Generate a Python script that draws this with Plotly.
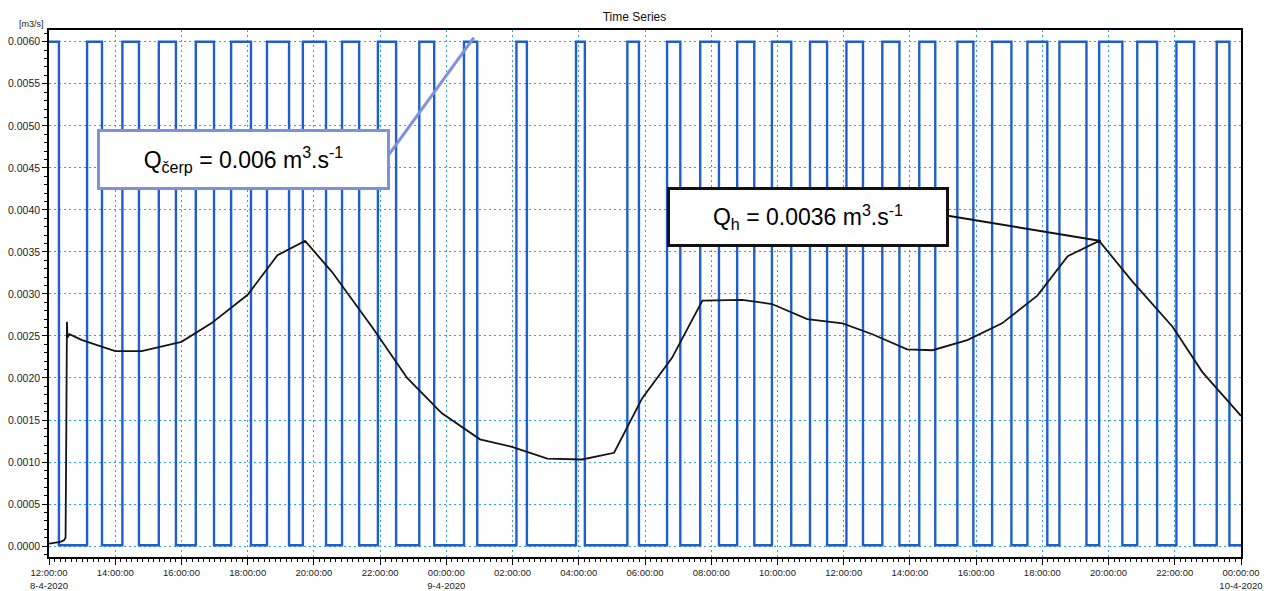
import plotly.graph_objects as go
import pandas as pd

# ---------------- data ----------------
# pump (Q cerp) switching times: pump ON intervals
pump_on = [
    "2020-04-08 12:00", "2020-04-08 13:09", "2020-04-08 14:13", "2020-04-08 15:19",
    "2020-04-08 16:26", "2020-04-08 17:30", "2020-04-08 18:35", "2020-04-08 19:40",
    "2020-04-08 20:51", "2020-04-08 21:56", "2020-04-08 23:11", "2020-04-09 00:32",
    "2020-04-09 02:07", "2020-04-09 03:55", "2020-04-09 05:28", "2020-04-09 06:40",
    "2020-04-09 07:40", "2020-04-09 08:47", "2020-04-09 09:50", "2020-04-09 10:59",
    "2020-04-09 12:05", "2020-04-09 13:10", "2020-04-09 14:17", "2020-04-09 15:26",
    "2020-04-09 16:29", "2020-04-09 17:33", "2020-04-09 18:31", "2020-04-09 19:43",
    "2020-04-09 20:52", "2020-04-09 22:03", "2020-04-09 23:16",
]
pump_off = [
    "2020-04-08 12:18", "2020-04-08 13:36", "2020-04-08 14:43", "2020-04-08 15:50",
    "2020-04-08 16:59", "2020-04-08 18:06", "2020-04-08 19:15", "2020-04-08 20:22",
    "2020-04-08 21:22", "2020-04-08 22:29", "2020-04-08 23:38", "2020-04-09 00:56",
    "2020-04-09 02:26", "2020-04-09 04:11", "2020-04-09 05:49", "2020-04-09 07:04",
    "2020-04-09 08:14", "2020-04-09 09:18", "2020-04-09 10:25", "2020-04-09 11:30",
    "2020-04-09 12:35", "2020-04-09 13:41", "2020-04-09 14:46", "2020-04-09 15:55",
    "2020-04-09 17:04", "2020-04-09 18:09", "2020-04-09 19:20", "2020-04-09 20:25",
    "2020-04-09 21:28", "2020-04-09 22:35", "2020-04-09 23:39",
]
q_pump_on = 0.0060
q_pump_off = 0.00001
series_end = "2020-04-10 00:00"

# inflow (Q h) curve
qh_times = [
    "2020-04-08 12:00", "2020-04-08 12:21", "2020-04-08 12:27", "2020-04-08 12:30",
    "2020-04-08 12:31", "2020-04-08 12:32", "2020-04-08 12:32:30", "2020-04-08 12:33:30",
    "2020-04-08 12:37", "2020-04-08 13:00", "2020-04-08 14:00", "2020-04-08 14:48",
    "2020-04-08 16:00", "2020-04-08 16:54", "2020-04-08 17:30", "2020-04-08 18:00",
    "2020-04-08 18:54", "2020-04-08 19:44", "2020-04-08 20:33", "2020-04-08 21:46",
    "2020-04-08 22:49", "2020-04-08 23:52", "2020-04-09 01:01", "2020-04-09 01:59",
    "2020-04-09 03:03", "2020-04-09 04:06", "2020-04-09 05:04", "2020-04-09 05:55",
    "2020-04-09 06:49", "2020-04-09 07:44", "2020-04-09 08:56", "2020-04-09 09:50",
    "2020-04-09 10:54", "2020-04-09 11:58", "2020-04-09 12:52", "2020-04-09 13:55",
    "2020-04-09 14:41", "2020-04-09 15:44", "2020-04-09 16:47", "2020-04-09 17:51",
    "2020-04-09 18:46", "2020-04-09 19:43", "2020-04-09 20:43", "2020-04-09 21:56",
    "2020-04-09 22:50", "2020-04-10 00:00",
]
qh_values = [
    0.00003, 0.00005, 0.00007, 0.00010,
    0.00100, 0.00240, 0.00267, 0.00248,
    0.00252, 0.00245, 0.00232, 0.00232,
    0.00243, 0.00265, 0.00283, 0.00299,
    0.00346, 0.00363, 0.00326, 0.00260,
    0.00200, 0.00158, 0.00127, 0.00118,
    0.00104, 0.00103, 0.00111, 0.00176,
    0.00224, 0.00292, 0.00293, 0.00288,
    0.00270, 0.00265, 0.00252, 0.00234,
    0.00233, 0.00245, 0.00265, 0.00298,
    0.00345, 0.00363, 0.00315, 0.00261,
    0.00207, 0.00155,
]

tick_times = pd.date_range("2020-04-08 12:00", "2020-04-10 00:00", freq="2h")
tick_labels = [
    t.strftime("%H:%M:%S") + (f"<br>{t.day}-{t.month}-{t.year}" if (t.hour == 0 or i == 0) else "")
    for i, t in enumerate(tick_times)
]
y_ticks = [i * 0.0005 for i in range(13)]
y_labels = [f"{v:.4f}" for v in y_ticks]

label_pump = "Q<sub>čerp</sub> = 0.006 m<sup>3</sup>.s<sup>-1</sup>"
label_inflow = "Q<sub>h</sub> = 0.0036 m<sup>3</sup>.s<sup>-1</sup>"

# ---------------- build the step series ----------------
step_x, step_y = [], []
for on, off in zip(pump_on, pump_off):
    step_x += [on, off]
    step_y += [q_pump_on, q_pump_off]
step_x.append(series_end)
step_y.append(q_pump_off)

BLUE = "#1f5fcc"
GRID = "#2fa2ee"
PERI = "#7f90dc"
FONT = "Liberation Sans, Arial, sans-serif"

fig = go.Figure()
fig.add_trace(go.Scatter(x=step_x, y=step_y, mode="lines", line_shape="hv",
                         line=dict(color=BLUE, width=2.4), showlegend=False))
fig.add_trace(go.Scatter(x=qh_times, y=qh_values, mode="lines",
                         line=dict(color="#151515", width=1.8), showlegend=False))

base = pd.Timestamp("2020-04-08 12:00")
def T(h):
    return base + pd.Timedelta(hours=h)

# annotation boxes
fig.add_annotation(x=T(5.86), y=0.004600, xref="x", yref="y", text=label_pump,
                   showarrow=False, width=287, height=55, bgcolor="white",
                   bordercolor=PERI, borderwidth=3, borderpad=0,
                   font=dict(family=FONT, size=23, color="black"))
fig.add_shape(type="line", xref="x", yref="y", x0=T(10.27), y0=0.00466,
              x1=T(12.83), y1=0.00605, line=dict(color=PERI, width=3))

fig.add_annotation(x=T(22.92), y=0.003917, xref="x", yref="y", text=label_inflow,
                   showarrow=False, width=276, height=54, bgcolor="white",
                   bordercolor="#111", borderwidth=3, borderpad=0,
                   font=dict(family=FONT, size=23, color="black"))
fig.add_shape(type="line", xref="x", yref="y", x0=T(27.15), y0=0.00393,
              x1=T(31.77), y1=0.00363, line=dict(color="#111", width=2))

fig.add_annotation(x=-0.015, y=1.025, xref="paper", yref="paper", text="[m3/s]",
                   xanchor="center", showarrow=False,
                   font=dict(family=FONT, size=9, color="#222"))

fig.update_layout(
    width=1269, height=591,
    margin=dict(l=49, r=28, t=30, b=34),
    paper_bgcolor="white", plot_bgcolor="white",
    title=dict(text="Time Series", x=0.5, xref="container", y=0.972, yref="container",
               xanchor="center", yanchor="middle",
               font=dict(family=FONT, size=12, color="#111")),
    font=dict(family=FONT, size=10, color="#222"),
)
fig.update_xaxes(
    range=[base, pd.Timestamp(series_end)], automargin=False,
    tickmode="array", tickvals=tick_times, ticktext=tick_labels,
    showgrid=True, gridcolor=GRID, griddash="2px,3px", gridwidth=1.3,
    showline=True, linecolor="black", linewidth=1.5, mirror=True,
    ticks="outside", ticklen=6, tickcolor="black", tickwidth=1,
    minor=dict(ticks="outside", ticklen=3, tickcolor="black", dtick=600000,
               tick0="2020-04-08 12:00", showgrid=False),
    zeroline=False, tickfont=dict(size=9.5, color="#222"),
)
fig.update_yaxes(
    range=[-0.00013, 0.00614], automargin=False,
    tickmode="array", tickvals=y_ticks, ticktext=y_labels,
    showgrid=True, gridcolor=GRID, griddash="2px,3px", gridwidth=1.3,
    showline=True, linecolor="black", linewidth=1.5, mirror=True,
    ticks="outside", ticklen=5, tickcolor="black", tickwidth=1,
    minor=dict(ticks="outside", ticklen=3, tickcolor="black", dtick=0.0001,
               tick0=0, showgrid=False),
    zeroline=False, tickfont=dict(size=10.5, color="#222"),
)

fig.write_html("out.html")
